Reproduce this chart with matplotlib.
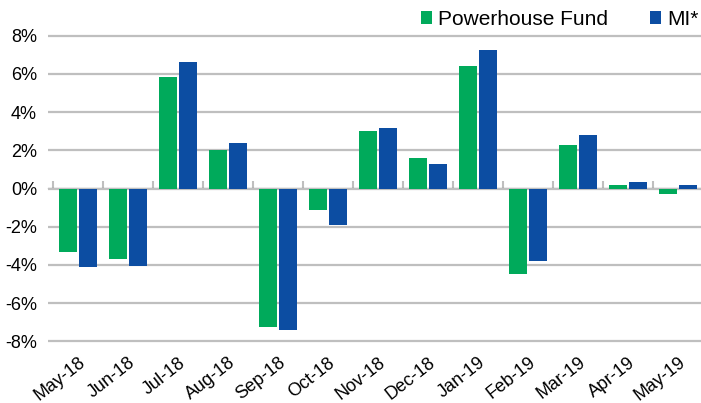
import matplotlib
matplotlib.use("Agg")
import matplotlib.pyplot as plt
import numpy as np

categories = ["May-18", "Jun-18", "Jul-18", "Aug-18", "Sep-18", "Oct-18", "Nov-18",
              "Dec-18", "Jan-19", "Feb-19", "Mar-19", "Apr-19", "May-19"]
fund = [-3.3, -3.7, 5.85, 2.0, -7.25, -1.15, 3.0, 1.6, 6.4, -4.45, 2.3, 0.2, -0.3]
mi = [-4.1, -4.05, 6.6, 2.4, -7.4, -1.9, 3.15, 1.3, 7.25, -3.8, 2.8, 0.35, 0.2]
yticks = [-8, -6, -4, -2, 0, 2, 4, 6, 8]
series_names = ["Powerhouse Fund", "MI*"]

GREEN = "#00AA5B"
BLUE = "#0C4DA2"
GRID = "#BFBFBF"

plt.rcParams['font.family'] = ['Liberation Sans', 'DejaVu Sans']

fig = plt.figure(figsize=(7.01, 4.03), dpi=100)
ax = fig.add_axes([48/701, 1-343/403, 1-48/701, (343-34)/403])

x = np.arange(len(categories))
w = 0.36
ax.bar(x - 0.2, fund, width=w, color=GREEN, label=series_names[0], zorder=3)
ax.bar(x + 0.2, mi, width=w, color=BLUE, label=series_names[1], zorder=3)

ax.set_xlim(-0.6, 12.46)
ax.set_ylim(-8.08, 8.08)
ax.set_yticks(yticks)
ax.set_yticklabels([f"{v}%" for v in yticks], fontsize=13)
ax.yaxis.grid(True, color=GRID, linewidth=1.6, zorder=1)
ax.tick_params(axis='y', length=0, pad=8)

ax.set_xticks(x)
ax.set_xticklabels(categories, rotation=38, ha='right', rotation_mode='anchor', fontsize=13)
ax.tick_params(axis='x', length=0, pad=8)

for s in ax.spines.values():
    s.set_visible(False)

sec = ax.secondary_xaxis(0.5)
sec.set_xticks(np.arange(len(categories) + 1) - 0.5)
sec.set_xticklabels([])
sec.tick_params(axis='x', direction='out', length=5, width=1.5, color=GRID)
sec.spines['bottom'].set_visible(False)

leg = fig.legend(loc='upper right', bbox_to_anchor=(1.018, 1.012), ncol=2, frameon=False,
                 fontsize=15, handlelength=0.55, handleheight=0.55, handletextpad=0.3,
                 columnspacing=2.0, borderaxespad=0.3)

fig.savefig("out.png", dpi=100)
